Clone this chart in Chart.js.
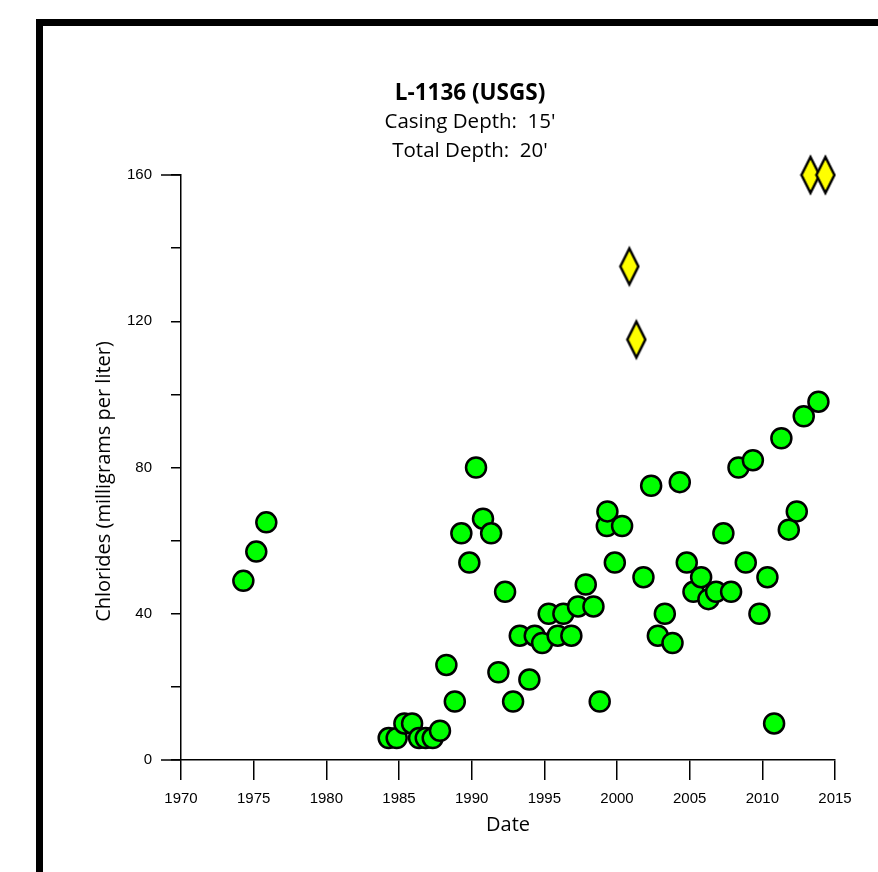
<!DOCTYPE html>
<html>
<head>
<meta charset="utf-8">
<script src="https://cdn.jsdelivr.net/npm/chart.js@4"></script>
<style>
  body { margin: 0; background: #fff; overflow: hidden; }
  #frame { position: absolute; left: 36px; top: 19px; width: 1000px; height: 1000px; border-left: 7px solid #000; border-top: 7px solid #000; }
  #myChart { position: absolute; left: 0; top: 0; }
</style>
</head>
<body>
<div id="frame"></div>
<canvas id="myChart" width="878" height="872"></canvas>
<script>
const wellName = 'L-1136 (USGS)';
const depthLines = ["Casing Depth:  15'", "Total Depth:  20'"];
const xAxisTitle = 'Date';
const yAxisTitle = 'Chlorides (milligrams per liter)';

// green circles
const sampleDates = [
  1974.29, 1975.18, 1975.87,
  1984.29, 1984.84, 1985.37, 1985.90, 1986.38, 1986.84, 1987.32, 1987.82,
  1988.26, 1988.84, 1989.29, 1989.84, 1990.30, 1990.78, 1991.34, 1991.84,
  1992.30, 1992.85, 1993.31, 1993.97, 1994.34, 1994.85, 1995.30, 1995.92,
  1996.31, 1996.86, 1997.32, 1997.85, 1998.38, 1998.81, 1999.30, 1999.34,
  1999.85, 2000.35, 2001.82, 2002.35, 2002.81, 2003.29, 2003.82, 2004.32,
  2004.80, 2005.26, 2005.79, 2006.29, 2006.82, 2007.32, 2007.85, 2008.36,
  2008.86, 2009.35, 2009.80, 2010.35, 2010.81, 2011.31, 2011.82, 2012.37,
  2012.85, 2013.86
];
const sampleChlorides = [
  49, 57, 65,
  6, 6, 10, 10, 6, 6, 6, 8,
  26, 16, 62, 54, 80, 66, 62, 24,
  46, 16, 34, 22, 34, 32, 40, 34,
  40, 34, 42, 48, 42, 16, 64, 68,
  54, 64, 50, 75, 34, 40, 32, 76,
  54, 46, 50, 44, 46, 62, 46, 80,
  54, 82, 40, 50, 10, 88, 63, 68,
  94, 98
];

// yellow diamonds
const diamondDates = [2000.85, 2001.33, 2013.31, 2014.34];
const diamondChlorides = [135, 115, 160, 160];

const yLabelValues = [0, 40, 80, 120, 160];

function toPoints(xs, ys) {
  return xs.map((x, i) => ({ x: x, y: ys[i] }));
}

function diamondMarker() {
  const c = document.createElement('canvas');
  c.width = 22;
  c.height = 46;
  const g = c.getContext('2d');
  g.beginPath();
  g.moveTo(11, 5);
  g.lineTo(20, 23);
  g.lineTo(11, 41);
  g.lineTo(2, 23);
  g.closePath();
  g.fillStyle = '#ffff00';
  g.fill();
  g.lineWidth = 2.5;
  g.strokeStyle = '#000';
  g.stroke();
  return c;
}

// long stubs at 0 and 160, and the y title sitting a bit below centre
const axisExtras = {
  id: 'axisExtras',
  afterDraw(chart) {
    const y = chart.scales.y;
    const ctx = chart.ctx;
    ctx.save();
    ctx.strokeStyle = '#000';
    ctx.lineWidth = 1.5;
    [0, 160].forEach(v => {
      const py = y.getPixelForValue(v);
      ctx.beginPath();
      ctx.moveTo(y.right - 20, py);
      ctx.lineTo(y.right, py);
      ctx.stroke();
    });
    ctx.translate(y.left - 1, (y.top + y.bottom) / 2 + 14);
    ctx.rotate(-Math.PI / 2);
    ctx.fillStyle = '#000';
    ctx.font = '20px "Open Sans"';
    ctx.textAlign = 'center';
    ctx.textBaseline = 'middle';
    ctx.fillText(yAxisTitle, 0, 0);
    ctx.restore();
  }
};

const tickFont = { family: 'Liberation Sans', size: 15 };

const config = {
  type: 'scatter',
  data: {
    datasets: [
      {
        label: 'Chlorides',
        data: toPoints(sampleDates, sampleChlorides),
        backgroundColor: '#00ff00',
        borderColor: '#000',
        borderWidth: 2.5,
        pointRadius: 10,
        pointHoverRadius: 10,
        clip: false
      },
      {
        label: 'Other',
        data: toPoints(diamondDates, diamondChlorides),
        pointStyle: diamondMarker(),
        clip: false
      }
    ]
  },
  options: {
    responsive: false,
    animation: false,
    layout: { padding: { left: 105, right: 43, top: 0, bottom: 32 } },
    plugins: {
      legend: { display: false },
      tooltip: { enabled: false },
      title: {
        display: true,
        text: wellName,
        color: '#000',
        font: { family: 'Open Sans', size: 22.5, weight: 'bold', lineHeight: '24px' },
        padding: { top: 81.5, bottom: 0 }
      },
      subtitle: {
        display: true,
        text: depthLines,
        color: '#000',
        font: { family: 'Open Sans', size: 20.5, lineHeight: '29px' },
        padding: { top: 2.5, bottom: 9 }
      }
    },
    scales: {
      x: {
        type: 'linear',
        min: 1970,
        max: 2015,
        afterFit(s) { s.height = 80; },
        ticks: { stepSize: 5, color: '#000', font: tickFont, padding: 10, maxRotation: 0, autoSkip: false, callback: v => String(v) },
        grid: { drawOnChartArea: false, tickLength: 20, color: '#000', lineWidth: 1.5 },
        border: { color: '#000', width: 1.5 },
        title: { display: true, text: xAxisTitle, color: '#000', font: { family: 'Open Sans', size: 20 }, padding: { top: 0, bottom: 3 } }
      },
      y: {
        min: 0,
        max: 160,
        afterFit(s) { s.width = 76; },
        ticks: { stepSize: 20, color: '#000', font: tickFont, padding: 19, autoSkip: false, callback: v => yLabelValues.includes(v) ? String(v) : '' },
        grid: { drawOnChartArea: false, tickLength: 10, color: '#000', lineWidth: 1.5 },
        border: { color: '#000', width: 1.5 }
      }
    }
  },
  plugins: [axisExtras]
};

new Chart(document.getElementById('myChart').getContext('2d'), config);
</script>
</body>
</html>
